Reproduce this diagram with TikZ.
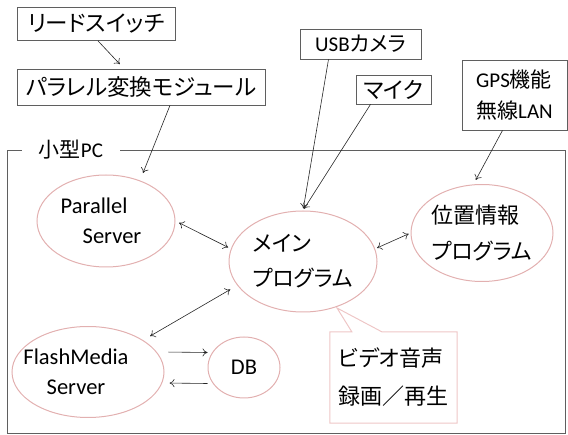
\documentclass[tikz,border=0pt]{standalone}
\usepackage{fontspec}
\setmainfont{Carlito}
\newfontfamily\jp{Noto Sans CJK JP}[RawFeature=+palt]
\usetikzlibrary{shapes.geometric,arrows.meta}

\definecolor{ovalpink}{RGB}{226,176,176}
\definecolor{notepink}{RGB}{238,198,198}
\definecolor{boxgray}{RGB}{95,95,95}

\tikzset{
    box/.style={draw=boxgray, line width=0.8pt, inner sep=0pt},
    oval/.style={ellipse, draw=ovalpink, line width=1pt, inner xsep=-15pt, inner ysep=-5pt},
    link/.style={draw=black!85, line width=0.6pt},
    >={To[length=5pt,width=8pt]}
}

\begin{document}
\begin{tikzpicture}[x=1pt, y=-1pt]
        \useasboundingbox (0,0) rectangle (568,435);

        % boxes outside the PC
        \begin{scope}[every node/.style={box, font=\fontsize{22.5}{31}\selectfont}]
            \node[minimum width=158pt, minimum height=33pt] (reed) at (96,24) {\jp リードスイッチ};
            \node[minimum width=248pt, minimum height=36pt] (para) at (141,87) {\jp パラレル変換モジュール};

            \node[minimum width=121pt, minimum height=30pt, font=\fontsize{21}{31}\selectfont] (usb) at (360.5,44) {USB{\jp カメラ}};
            \node[minimum width=75pt, minimum height=29pt] (mic) at (393.5,89.5) {\jp マイク};

            \node[minimum width=105pt, minimum height=70pt, align=left, font=\fontsize{21}{31}\selectfont] (gps) at (514.5,95) {GPS{\jp 機能}\\{\jp 無線}LAN};
        \end{scope}

        % PC frame
        \node[minimum width=98pt, inner sep=0pt, font=\fontsize{21}{26}\selectfont] (pcLabel) at (71,150) {{\jp 小型}PC};
        \draw[draw=boxgray, line width=0.8pt] (pcLabel.west) -- (7,150) -- (7,433) -- (565,433) -- (565,150) -- (pcLabel.east);

        % programs
        \begin{scope}[every node/.style={oval, font=\fontsize{22.5}{30}\selectfont}]
            \node[minimum width=138pt, minimum height=92pt, align=left] (par) at (106,221) {Parallel\\\hspace*{22pt}Server\hspace*{10pt}};
            \node[minimum width=148pt, minimum height=101pt, align=left, font=\fontsize{22}{35}\selectfont\jp] (main) at (303,261.5) {メイン\\プログラム};
            \node[minimum width=142pt, minimum height=97pt, align=left, font=\fontsize{22}{36}\selectfont\jp] (loc) at (482,233) {位置情報\\プログラム};

            \node[minimum width=152pt, minimum height=91pt, align=center] (flash) at (88,372) {FlashMedia\hspace*{24pt}\\Server\hspace*{24pt}};
            \node[minimum width=72pt, minimum height=61pt] (db) at (244,367.5) {DB};
        \end{scope}

        % note
        \node[minimum width=127pt, minimum height=91pt, inner sep=0pt, align=left, font=\fontsize{22}{38}\selectfont\jp] (note) at (393.5,377.5) {ビデオ音声\\録画／再生};
        \coordinate (tip) at (337,308);
        \draw[draw=notepink, line width=1pt] (note.north west) -- ([xshift=22pt]note.north west) -- (tip)
            -- ([xshift=52pt]note.north west) -- (note.north east) -- (note.south east) -- (note.south west) -- cycle;

        % connectors
        \begin{scope}[every edge/.style={draw, link}]
            \path [->] ([xshift=2pt]reed.south) edge[shorten >=6pt] ([xshift=-17pt]para.north);
            \path [->] ([xshift=29pt]para.south) edge[shorten >=8pt] (par.50);

            \path [->] ([xshift=-32pt]usb.south) edge[shorten >=2pt] (main.north);
            \path [->] ([xshift=-23pt]mic.south) edge[shorten >=2pt] (main.north);
            \path [->] ([xshift=-12pt]gps.south) edge[shorten >=5pt] (loc.100);

            \path [<->] (par.east) edge[shorten <=4pt, shorten >=3pt] (main.170);
            \path [<->] (main.10) edge[shorten <=2pt, shorten >=2pt] (loc.west);
            \path [<->] (main.200) edge[shorten <=8pt, shorten >=8pt] (flash.30);

            \path [->] ([yshift=20pt]flash.east) edge[shorten <=4pt] ([yshift=15pt]db.west);
            \path [->] ([yshift=-16pt]db.west) edge[shorten >=5pt] ([yshift=-11pt]flash.east);
        \end{scope}
    \end{tikzpicture}
\end{document}
